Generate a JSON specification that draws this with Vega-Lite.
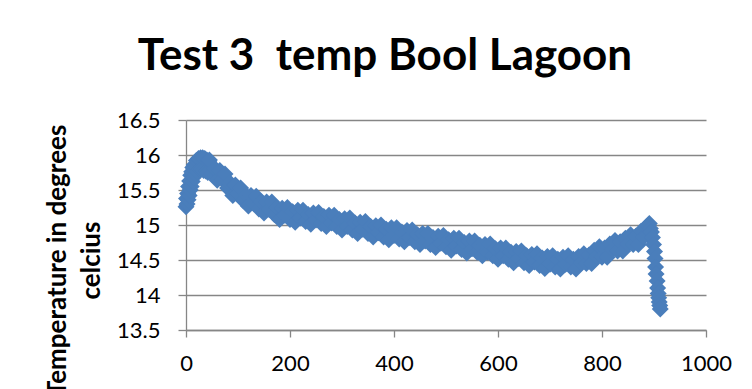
{
  "$schema": "https://vega.github.io/schema/vega-lite/v6.json",
  "width": 520,
  "height": 210,
  "autosize": {"type": "none"},
  "padding": {"left": 186, "top": 120, "right": 46, "bottom": 59},
  "background": "#ffffff",
  "title": {
    "text": "Test 3\u00a0 temp Bool Lagoon",
    "font": "Lato",
    "fontSize": 44,
    "fontWeight": "bold",
    "color": "#000000",
    "anchor": "middle",
    "frame": "group",
    "dx": -61,
    "baseline": "alphabetic",
    "offset": -5
  },
  "data": {
    "values": [
      {"t":0,"v":15.26},{"t":1,"v":15.38},{"t":2,"v":15.30},{"t":3,"v":15.45},{"t":4,"v":15.36},{"t":5,"v":15.55},{"t":6,"v":15.42},{"t":7,"v":15.63},{"t":8,"v":15.50},{"t":9,"v":15.71},{"t":10,"v":15.55},{"t":11,"v":15.76},{"t":12,"v":15.62},{"t":13,"v":15.82},{"t":14,"v":15.68},{"t":16,"v":15.86},{"t":18,"v":15.72},{"t":20,"v":15.92},{"t":22,"v":15.76},{"t":24,"v":15.95},{"t":26,"v":15.79},{"t":28,"v":15.96},{"t":30,"v":15.80},{"t":32,"v":15.96},{"t":34,"v":15.78},{"t":36,"v":15.95},{"t":38,"v":15.77},{"t":40,"v":15.93},{"t":42,"v":15.75},{"t":44,"v":15.90},
      {"t":45,"v":15.93},{"t":50,"v":15.73},{"t":55,"v":15.81},{"t":60,"v":15.64},{"t":65,"v":15.78},{"t":70,"v":15.65},{"t":75,"v":15.73},{"t":80,"v":15.53},{"t":85,"v":15.60},{"t":90,"v":15.42},{"t":95,"v":15.57},{"t":100,"v":15.44},
      {"t":105,"v":15.53},{"t":110,"v":15.35},{"t":115,"v":15.43},{"t":120,"v":15.27},{"t":125,"v":15.42},{"t":130,"v":15.31},{"t":135,"v":15.41},{"t":140,"v":15.23},{"t":145,"v":15.33},{"t":150,"v":15.17},{"t":155,"v":15.33},{"t":160,"v":15.22},
      {"t":165,"v":15.33},{"t":170,"v":15.15},{"t":175,"v":15.24},{"t":180,"v":15.08},{"t":185,"v":15.24},{"t":190,"v":15.14},{"t":195,"v":15.25},{"t":200,"v":15.08},{"t":205,"v":15.19},{"t":210,"v":15.04},{"t":215,"v":15.21},{"t":220,"v":15.10},
      {"t":225,"v":15.21},{"t":230,"v":15.05},{"t":235,"v":15.15},{"t":240,"v":15.01},{"t":245,"v":15.17},{"t":250,"v":15.07},{"t":255,"v":15.18},{"t":260,"v":15.02},{"t":265,"v":15.12},{"t":270,"v":14.98},{"t":275,"v":15.14},{"t":280,"v":15.03},
      {"t":285,"v":15.14},{"t":290,"v":14.98},{"t":295,"v":15.08},{"t":300,"v":14.93},{"t":305,"v":15.09},{"t":310,"v":14.98},{"t":315,"v":15.10},{"t":320,"v":14.93},{"t":325,"v":15.03},{"t":330,"v":14.88},{"t":335,"v":15.04},{"t":340,"v":14.94},
      {"t":345,"v":15.05},{"t":350,"v":14.88},{"t":355,"v":14.98},{"t":360,"v":14.83},{"t":365,"v":14.99},{"t":370,"v":14.89},{"t":375,"v":15.00},{"t":380,"v":14.83},{"t":385,"v":14.94},{"t":390,"v":14.79},{"t":395,"v":14.96},{"t":400,"v":14.85},
      {"t":405,"v":14.96},{"t":410,"v":14.80},{"t":415,"v":14.90},{"t":420,"v":14.76},{"t":425,"v":14.92},{"t":430,"v":14.82},{"t":435,"v":14.93},{"t":440,"v":14.76},{"t":445,"v":14.86},{"t":450,"v":14.72},{"t":455,"v":14.88},{"t":460,"v":14.77},
      {"t":465,"v":14.88},{"t":470,"v":14.72},{"t":475,"v":14.82},{"t":480,"v":14.68},{"t":485,"v":14.84},{"t":490,"v":14.74},{"t":495,"v":14.85},{"t":500,"v":14.69},{"t":505,"v":14.79},{"t":510,"v":14.64},{"t":515,"v":14.81},{"t":520,"v":14.70},
      {"t":525,"v":14.81},{"t":530,"v":14.65},{"t":535,"v":14.75},{"t":540,"v":14.60},{"t":545,"v":14.77},{"t":550,"v":14.66},{"t":555,"v":14.77},{"t":560,"v":14.61},{"t":565,"v":14.71},{"t":570,"v":14.56},{"t":575,"v":14.72},{"t":580,"v":14.61},
      {"t":585,"v":14.73},{"t":590,"v":14.56},{"t":595,"v":14.66},{"t":600,"v":14.51},{"t":605,"v":14.67},{"t":610,"v":14.56},{"t":615,"v":14.67},{"t":620,"v":14.51},{"t":625,"v":14.61},{"t":630,"v":14.46},{"t":635,"v":14.62},{"t":640,"v":14.52},
      {"t":645,"v":14.63},{"t":650,"v":14.46},{"t":655,"v":14.56},{"t":660,"v":14.42},{"t":665,"v":14.58},{"t":670,"v":14.47},{"t":675,"v":14.59},{"t":680,"v":14.42},{"t":685,"v":14.53},{"t":690,"v":14.38},{"t":695,"v":14.55},{"t":700,"v":14.44},
      {"t":705,"v":14.56},{"t":710,"v":14.40},{"t":715,"v":14.51},{"t":720,"v":14.37},{"t":725,"v":14.54},{"t":730,"v":14.44},{"t":735,"v":14.56},{"t":740,"v":14.40},{"t":745,"v":14.51},{"t":750,"v":14.37},{"t":755,"v":14.55},{"t":760,"v":14.46},
      {"t":765,"v":14.59},{"t":770,"v":14.45},{"t":775,"v":14.57},{"t":780,"v":14.45},{"t":785,"v":14.64},{"t":790,"v":14.55},{"t":795,"v":14.69},{"t":800,"v":14.54},{"t":805,"v":14.67},{"t":810,"v":14.54},{"t":815,"v":14.73},{"t":820,"v":14.65},
      {"t":825,"v":14.78},{"t":830,"v":14.63},{"t":835,"v":14.76},{"t":840,"v":14.63},{"t":845,"v":14.81},{"t":850,"v":14.73},{"t":855,"v":14.86},{"t":860,"v":14.72},{"t":865,"v":14.84},{"t":870,"v":14.72},{"t":875,"v":14.91},{"t":880,"v":14.83},
      {"t":885,"v":14.97},{"t":887,"v":14.86},{"t":889,"v":15.00},{"t":891,"v":15.02},{"t":893,"v":14.95},{"t":895,"v":14.90},{"t":897,"v":14.82},{"t":899,"v":14.72},{"t":901,"v":14.62},{"t":902,"v":14.52},{"t":903,"v":14.40},{"t":904,"v":14.30},
      {"t":906,"v":14.20},{"t":907,"v":14.10},{"t":908,"v":14.02},{"t":909,"v":13.96},{"t":910,"v":13.90},{"t":911,"v":13.85},{"t":912,"v":13.80}
    ]
  },
  "mark": {"type": "point", "shape": "diamond", "filled": true, "size": 290, "opacity": 1, "color": "#4A7EBB"},
  "encoding": {
    "x": {
      "field": "t",
      "type": "quantitative",
      "scale": {"domain": [0, 1000], "nice": false, "zero": false},
      "axis": {
        "title": null,
        "values": [0, 200, 400, 600, 800, 1000],
        "format": "d",
        "grid": false,
        "tickSize": 7,
        "labelPadding": 16,
        "labelFontSize": 22,
        "labelFont": "Lato",
        "labelColor": "#000000",
        "labelFlush": false,
        "labelOverlap": false,
        "domainColor": "#868686",
        "domainWidth": 1.3,
        "tickColor": "#868686",
        "tickWidth": 1.3
      }
    },
    "y": {
      "field": "v",
      "type": "quantitative",
      "scale": {"domain": [13.5, 16.5], "nice": false, "zero": false},
      "axis": {
        "title": ["Temperature in degrees", "celcius"],
        "titleFont": "Lato",
        "titleFontSize": 26,
        "titleFontWeight": "bold",
        "titleColor": "#000000",
        "titleLineHeight": 34,
        "titleX": -116,
        "titleY": 140,
        "values": [13.5, 14, 14.5, 15, 15.5, 16, 16.5],
        "labelExpr": "'' + datum.value",
        "grid": true,
        "gridColor": "#868686",
        "gridWidth": 1.3,
        "tickSize": 8,
        "labelPadding": 18,
        "labelFontSize": 22,
        "labelFont": "Lato",
        "labelColor": "#000000",
        "labelOverlap": false,
        "domainColor": "#868686",
        "domainWidth": 1.3,
        "tickColor": "#868686",
        "tickWidth": 1.3
      }
    }
  },
  "config": {
    "font": "Lato",
    "view": {"stroke": null}
  }
}
